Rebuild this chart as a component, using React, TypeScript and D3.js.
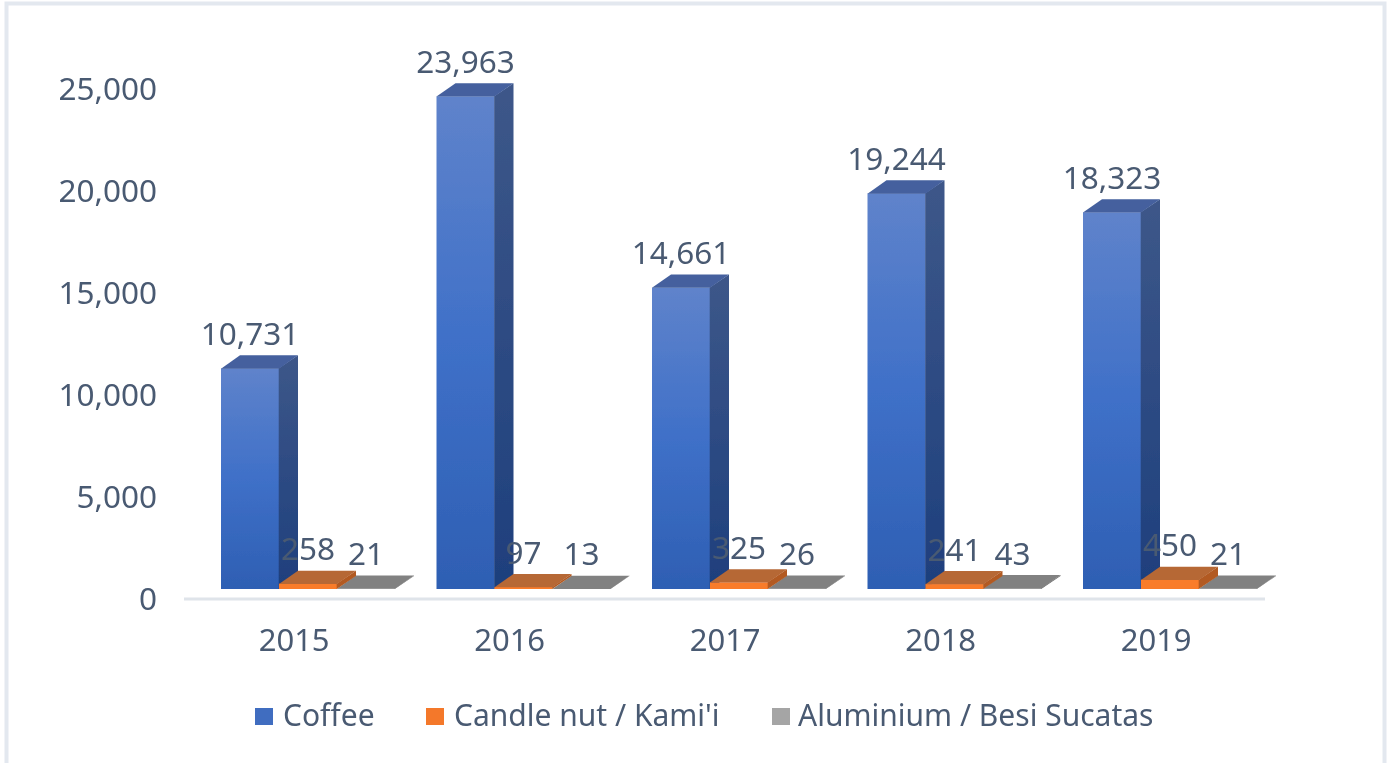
import React from "react";
import * as d3 from "d3";

const years = ["2015", "2016", "2017", "2018", "2019"];
const coffee = [10731, 23963, 14661, 19244, 18323];
const candle = [258, 97, 325, 241, 450];
const aluminium = [21, 13, 26, 43, 21];
const yTicks = [0, 5000, 10000, 15000, 20000, 25000];
const seriesNames = ["Coffee", "Candle nut / Kami'i", "Aluminium / Besi Sucatas"];
const legendX = [255, 426, 772];
const legendTextX = [283, 454, 798];

const W = 1388, H = 763;
const TEXT = "#4a5a72";
const FONT = "'Noto Sans', sans-serif";
const DX = 19, DY = 13;
const BASE = 589;

const x0 = d3.scaleBand<string>().domain(years).range([186.4, 1263.9]);
const yLabel = d3.scaleLinear().domain([0, 25000]).range([597, 87]);
const h = d3.scaleLinear().domain([0, 25000]).range([0, 514]);
const fmt = d3.format(",");

const series = [
  { key: "coffee", values: coffee, front: "url(#cf)", side: "url(#cs)", top: "#45619e" },
  { key: "candle", values: candle, front: "#f97b2c", side: "#b25a22", top: "#b66735" },
  { key: "alum", values: aluminium, front: "#a5a5a5", side: "#707070", top: "#818181" },
];
const drawOrder = [0, 2, 1];

function Bar3D({ x, w, v, s }: { x: number; w: number; v: number; s: (typeof series)[number] }) {
  const top = BASE - h(v);
  const r = x + w;
  return (
    <g>
      <rect x={x} y={top} width={w} height={BASE - top} fill={s.front} />
      <polygon points={`${r - 0.3},${top} ${r + DX},${top - DY} ${r + DX},${BASE - DY} ${r - 0.3},${BASE}`} fill={s.side} />
      <polygon points={`${x},${top + 0.3} ${x + DX},${top - DY} ${r + DX},${top - DY} ${r},${top + 0.3}`} fill={s.top} />
    </g>
  );
}

export default function App() {
  const x1 = d3.scaleBand<number>().domain([0, 1, 2]).range([0, 174]);
  const groupStart = (yr: string) => x0(yr)! + 34.6;
  return (
    <svg width={W} height={H} viewBox={`0 0 ${W} ${H}`} style={{ position: "absolute", left: 0, top: 0, background: "#fff" }} fontFamily={FONT}>
      <defs>
        <linearGradient id="cf" x1="0" y1="0" x2="0" y2="1">
          <stop offset="0" stopColor="#5f83cb" />
          <stop offset="0.5" stopColor="#3f70c8" />
          <stop offset="1" stopColor="#2e5fb3" />
        </linearGradient>
        <linearGradient id="cs" x1="0" y1="0" x2="0" y2="1">
          <stop offset="0" stopColor="#3d5789" />
          <stop offset="1" stopColor="#1e3f7d" />
        </linearGradient>
        <filter id="soft" x="-5%" y="-5%" width="110%" height="110%">
          <feGaussianBlur stdDeviation="0.6" />
        </filter>
      </defs>
      <g filter="url(#soft)">
        <rect x={6.5} y={3.5} width={1378} height={770} fill="#fff" stroke="#e3e8ef" strokeWidth={4} />
        <line x1={184} x2={1265} y1={599} y2={599} stroke="#dfe4ea" strokeWidth={3} />
        {yTicks.map((t) => (
          <text key={t} x={157} y={yLabel(t)} textAnchor="end" dominantBaseline="central" fontSize={31.5} fill={TEXT}>
            {fmt(t)}
          </text>
        ))}
        {years.map((yr) => (
          <g key={yr}>
            {drawOrder.map((k) => (
              <Bar3D key={k} x={groupStart(yr) + x1(k)!} w={x1.bandwidth()} v={series[k].values[years.indexOf(yr)]} s={series[k]} />
            ))}
          </g>
        ))}
        {years.map((yr, i) =>
          series.map((s, k) => (
            <text key={yr + s.key} x={groupStart(yr) + x1(k)! + x1.bandwidth() / 2} y={BASE - h(s.values[i]) - 36}
              textAnchor="middle" dominantBaseline="central" fontSize={31.5} fill={TEXT}>
              {fmt(s.values[i])}
            </text>
          ))
        )}
        {years.map((yr) => (
          <text key={yr} x={x0(yr)! + x0.bandwidth() / 2} y={638.5} textAnchor="middle" dominantBaseline="central" fontSize={31} fill={TEXT}>
            {yr}
          </text>
        ))}
        {seriesNames.map((n, i) => (
          <g key={n}>
            <rect x={legendX[i]} y={708} width={18} height={17} fill={["#3f6dc0", "#f4782a", "#a5a5a5"][i]} />
            <text x={legendTextX[i]} y={714} dominantBaseline="central" fontSize={30} fill={TEXT}>{n}</text>
          </g>
        ))}
      </g>
    </svg>
  );
}
